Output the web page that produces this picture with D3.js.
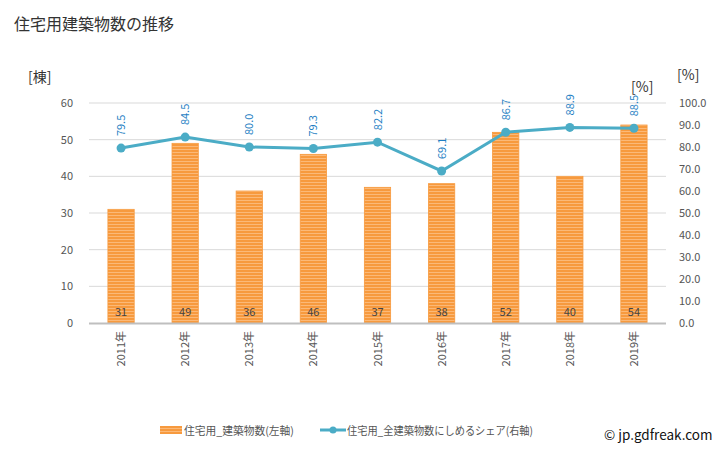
<!DOCTYPE html>
<html><head><meta charset="utf-8">
<script src="https://d3js.org/d3.v7.min.js"></script>
<style>body{margin:0;background:#fff}svg{font-family:"Noto Sans CJK JP","Noto Sans",sans-serif}</style>
</head><body>
<script>
const years = ["2011年","2012年","2013年","2014年","2015年","2016年","2017年","2018年","2019年"];
const counts = [31,49,36,46,37,38,52,40,54];
const shares = [79.5,84.5,80.0,79.3,82.2,69.1,86.7,88.9,88.5];
const leftTicks = [0,10,20,30,40,50,60];
const rightTicks = [0,10,20,30,40,50,60,70,80,90,100];

const W=728,H=450;
const svg=d3.select("body").append("svg").attr("width",W).attr("height",H);
const m={l:89,r:666,t:103,b:323};
const x=d3.scaleBand().domain(years).range([m.l,m.r]).paddingInner(0.59).paddingOuter(0.295);
const yL=d3.scaleLinear().domain([0,60]).range([m.b,m.t]);
const yR=d3.scaleLinear().domain([0,100]).range([m.b,m.t]);

const defs=svg.append("defs");
const pat=defs.append("pattern").attr("id","stripe").attr("patternUnits","userSpaceOnUse").attr("width",4).attr("height",3);
pat.append("rect").attr("width",4).attr("height",3).attr("fill","#fbb978");
pat.append("rect").attr("width",4).attr("height",2).attr("fill","#f79a3e");

svg.append("text").attr("x",14).attr("y",30).attr("font-size",16).attr("fill","#333").text("住宅用建築物数の推移");

// grid
svg.append("g").selectAll("line").data(leftTicks.filter(d=>d>0)).join("line")
 .attr("x1",m.l).attr("x2",m.r).attr("y1",d=>yL(d)).attr("y2",d=>yL(d)).attr("stroke","#d9d9d9").attr("stroke-width",1);

// ticks
svg.append("g").selectAll("text").data(leftTicks).join("text")
 .attr("x",73).attr("y",d=>yL(d)+4).attr("text-anchor","end").attr("font-size",11).attr("fill","#555").text(d=>d);
svg.append("g").selectAll("text").data(rightTicks).join("text")
 .attr("x",679).attr("y",d=>yR(d)+4).attr("text-anchor","start").attr("font-size",11).attr("fill","#555").text(d=>d.toFixed(1));

svg.append("text").attr("x",28).attr("y",82).attr("font-size",14).attr("fill","#333").text("[棟]");
svg.append("text").attr("x",631).attr("y",92).attr("font-size",14).attr("fill","#333").text("[%]");
svg.append("text").attr("x",677).attr("y",80).attr("font-size",14).attr("fill","#333").text("[%]");

// bars
svg.append("g").selectAll("rect").data(counts).join("rect")
 .attr("x",(d,i)=>x(years[i])).attr("width",x.bandwidth())
 .attr("y",d=>yL(d)).attr("height",d=>m.b-yL(d))
 .attr("fill","url(#stripe)").attr("stroke","#f79a3e").attr("stroke-width",0.8);
svg.append("g").selectAll("text").data(counts).join("text")
 .attr("x",(d,i)=>x(years[i])+x.bandwidth()/2).attr("y",m.b-7).attr("text-anchor","middle")
 .attr("font-size",11).attr("fill","#444").text(d=>d);

// axis line
svg.append("line").attr("x1",m.l).attr("x2",m.r).attr("y1",m.b+0.5).attr("y2",m.b+0.5).attr("stroke","#bfbfbf").attr("stroke-width",2);

// x labels
svg.append("g").selectAll("text").data(years).join("text")
 .attr("transform",d=>`translate(${x(d)+x.bandwidth()/2+4},${m.b+8}) rotate(-90)`)
 .attr("text-anchor","end").attr("font-size",11).attr("fill","#555").text(d=>d);

// line
const cx=i=>x(years[i])+x.bandwidth()/2;
const line=d3.line().x((d,i)=>cx(i)).y(d=>yR(d));
svg.append("path").datum(shares).attr("d",line).attr("fill","none").attr("stroke","#4bacc6").attr("stroke-width",3);
svg.append("g").selectAll("circle").data(shares).join("circle")
 .attr("cx",(d,i)=>cx(i)).attr("cy",d=>yR(d)).attr("r",4.5).attr("fill","#4bacc6");
svg.append("g").selectAll("text").data(shares).join("text")
 .attr("transform",(d,i)=>`translate(${cx(i)+4},${yR(d)-12}) rotate(-90)`)
 .attr("text-anchor","start").attr("font-size",11).attr("fill","#1f7fc4").text(d=>d.toFixed(1));

// legend
const lg=svg.append("g");
lg.append("rect").attr("x",160).attr("y",426).attr("width",22).attr("height",8).attr("fill","url(#stripe)");
lg.append("text").attr("x",184).attr("y",435).attr("font-size",11).attr("fill","#555")
 .attr("textLength",110).attr("lengthAdjust","spacingAndGlyphs").text("住宅用_建築物数(左軸)");
lg.append("line").attr("x1",320).attr("x2",346).attr("y1",430).attr("y2",430).attr("stroke","#4bacc6").attr("stroke-width",3);
lg.append("circle").attr("cx",333).attr("cy",430).attr("r",3.5).attr("fill","#4bacc6");
lg.append("text").attr("x",347).attr("y",435).attr("font-size",11).attr("fill","#555")
 .attr("textLength",186).attr("lengthAdjust","spacingAndGlyphs").text("住宅用_全建築物数にしめるシェア(右軸)");
svg.append("text").attr("x",604).attr("y",440).attr("font-size",13.5).attr("fill","#111").text("© jp.gdfreak.com");
</script>
</body></html>
